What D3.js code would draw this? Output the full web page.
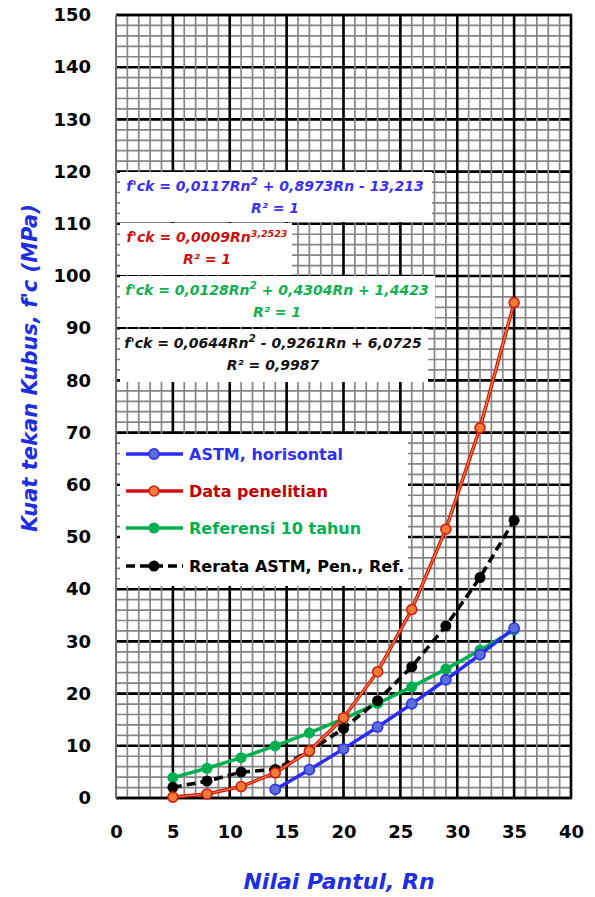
<!DOCTYPE html>
<html>
  <head>
    <title>Kuat tekan vs Nilai Pantul</title>
    <script src="https://d3js.org/d3.v7.min.js"></script>
    <style>
      body { margin: 0; background: #fff; }
      text { font-family: "DejaVu Sans", "Open Sans", sans-serif; }
    </style>
  </head>
  <body>
    <svg width="595" height="897"></svg>

    <script type="text/javascript">
      // data
      var rn = [5, 8, 11, 14, 17, 20, 23, 26, 29, 32, 35];
      var astm = [null, null, null, 1.64, 5.42, 9.41, 13.61, 18.03, 22.65, 27.48, 32.53];
      var penelitian = [0.17, 0.78, 2.19, 4.81, 9.03, 15.37, 24.2, 36.1, 51.5, 70.9, 94.9];
      var referensi = [3.91, 5.7, 7.73, 9.98, 12.46, 15.17, 18.11, 21.29, 24.69, 28.32, 32.19];
      var rerata = [2.04, 3.24, 4.96, 5.48, 8.97, 13.32, 18.64, 25.14, 32.95, 42.23, 53.21];
      var xTicks = [0, 5, 10, 15, 20, 25, 30, 35, 40];
      var yTicks = [0, 10, 20, 30, 40, 50, 60, 70, 80, 90, 100, 110, 120, 130, 140, 150];
      var seriesNames = ["ASTM, horisontal", "Data penelitian", "Referensi 10 tahun", "Rerata ASTM, Pen., Ref."];

      var svg = d3.select("svg");
      var x = d3.scaleLinear().domain([0, 40]).range([116, 571]);
      var y = d3.scaleLinear().domain([0, 150]).range([798, 15]);

      // grid
      var grid = svg.append("g");
      grid.selectAll(".hmin").data(d3.range(0, 151, 2)).enter().append("line")
        .attr("x1", x(0)).attr("x2", x(40))
        .attr("y1", d => y(d)).attr("y2", d => y(d))
        .attr("stroke", "#858585").attr("stroke-width", 1.7);
      grid.selectAll(".hmaj").data(yTicks).enter().append("line")
        .attr("x1", x(0)).attr("x2", x(40))
        .attr("y1", d => y(d)).attr("y2", d => y(d))
        .attr("stroke", "#000").attr("stroke-width", 2.6);
      grid.selectAll(".vmin").data(d3.range(0, 41, 1)).enter().append("line")
        .attr("y1", y(0)).attr("y2", y(150))
        .attr("x1", d => x(d)).attr("x2", d => x(d))
        .attr("stroke", "#858585").attr("stroke-width", 1.7);
      grid.selectAll(".vmaj").data(xTicks.slice(1, -1)).enter().append("line")
        .attr("y1", y(0)).attr("y2", y(150))
        .attr("x1", d => x(d)).attr("x2", d => x(d))
        .attr("stroke", "#000").attr("stroke-width", 2.6);

      // border
      svg.append("path")
        .attr("d", "M" + x(0) + "," + y(150) + "H" + x(40) + "V" + y(0) + "H" + x(0))
        .attr("fill", "none").attr("stroke", "#000").attr("stroke-width", 2.6);
      svg.append("line")
        .attr("x1", x(0)).attr("x2", x(0)).attr("y1", y(150)).attr("y2", y(0))
        .attr("stroke", "#707070").attr("stroke-width", 2);

      // axes
      var xAxis = svg.append("g")
        .attr("transform", "translate(0," + (y(0) + 24) + ")")
        .call(d3.axisBottom(x).tickValues(xTicks).tickSize(0));
      xAxis.select(".domain").remove();
      xAxis.selectAll("text")
        .attr("dy", "0.71em")
        .style("font-size", "18px").style("font-weight", "bold")
        .attr("fill", "#000");

      var yAxis = svg.append("g")
        .attr("transform", "translate(" + (x(0) - 25) + ",0)")
        .call(d3.axisLeft(y).tickValues(yTicks).tickSize(0));
      yAxis.select(".domain").remove();
      yAxis.selectAll("text")
        .attr("x", 0)
        .style("font-size", "18px").style("font-weight", "bold")
        .attr("fill", "#000");

      // axis titles
      svg.append("text")
        .attr("x", 339).attr("y", 889)
        .attr("text-anchor", "middle")
        .style("font-size", "22px").style("font-weight", "bold").style("font-style", "italic")
        .attr("fill", "#1f2fe0")
        .text("Nilai Pantul, Rn");
      svg.append("text")
        .attr("transform", "translate(37,368) rotate(-90)")
        .attr("text-anchor", "middle")
        .style("font-size", "21px").style("font-weight", "bold").style("font-style", "italic")
        .attr("fill", "#1f2fe0")
        .text("Kuat tekan Kubus, f'c (MPa)");

      // series
      var lineGen = d3.line()
        .x(d => x(d[0])).y(d => y(d[1]));
      function pts(vals) {
        return rn.map((r, i) => [r, vals[i]]).filter(d => d[1] != null);
      }

      var plot = svg.append("g");

      // Referensi (green)
      plot.append("path").datum(pts(referensi))
        .attr("fill", "none").attr("stroke", "#00b050").attr("stroke-width", 3.5)
        .attr("d", lineGen);
      plot.selectAll(".gdot").data(pts(referensi)).enter().append("circle")
        .attr("cx", d => x(d[0])).attr("cy", d => y(d[1])).attr("r", 5.5)
        .attr("fill", "#00b050");

      // ASTM (blue)
      plot.append("path").datum(pts(astm))
        .attr("fill", "none").attr("stroke", "#2b2bf5").attr("stroke-width", 3.5)
        .attr("d", lineGen);
      plot.selectAll(".bdot").data(pts(astm)).enter().append("circle")
        .attr("cx", d => x(d[0])).attr("cy", d => y(d[1])).attr("r", 5)
        .attr("fill", "#5b6fd6").attr("stroke", "#3535f0").attr("stroke-width", 1.8);

      // Rerata (black dashed)
      plot.append("path").datum(pts(rerata))
        .attr("fill", "none").attr("stroke", "#000").attr("stroke-width", 3.5)
        .attr("stroke-dasharray", "9,5")
        .attr("d", lineGen);
      plot.selectAll(".kdot").data(pts(rerata)).enter().append("circle")
        .attr("cx", d => x(d[0])).attr("cy", d => y(d[1])).attr("r", 5.5)
        .attr("fill", "#000");

      // Data penelitian (red with orange core)
      plot.append("path").datum(pts(penelitian))
        .attr("fill", "none").attr("stroke", "#d01010").attr("stroke-width", 3.5)
        .attr("d", lineGen);
      plot.append("path").datum(pts(penelitian))
        .attr("fill", "none").attr("stroke", "#f07a30").attr("stroke-width", 1.4)
        .attr("d", lineGen);
      plot.selectAll(".rdot").data(pts(penelitian)).enter().append("circle")
        .attr("cx", d => x(d[0])).attr("cy", d => y(d[1])).attr("r", 5)
        .attr("fill", "#ef7d35").attr("stroke", "#d81a10").attr("stroke-width", 1.6);

      // trendline equation boxes
      var eqs = [
        { x: 120, y: 172, w: 312, h: 50, color: "#3b30f0", cx: 275,
          parts: [["f'ck = 0,0117Rn"], ["2", true], [" + 0,8973Rn - 13,213"]], r2: "R² = 1" },
        { x: 120, y: 223, w: 172, h: 52, color: "#cc1010", cx: 207,
          parts: [["f'ck = 0,0009Rn"], ["3,2523", true]], r2: "R² = 1" },
        { x: 120, y: 276, w: 315, h: 51, color: "#10b050", cx: 277,
          parts: [["f'ck = 0,0128Rn"], ["2", true], [" + 0,4304Rn + 1,4423"]], r2: "R² = 1" },
        { x: 120, y: 329, w: 308, h: 53, color: "#111", cx: 273,
          parts: [["f'ck = 0,0644Rn"], ["2", true], [" - 0,9261Rn + 6,0725"]], r2: "R² = 0,9987" }
      ];
      var eqG = svg.append("g");
      eqs.forEach(function (e) {
        eqG.append("rect")
          .attr("x", e.x).attr("y", e.y).attr("width", e.w).attr("height", e.h)
          .attr("fill", "#fff");
        var t = eqG.append("text")
          .attr("x", e.cx).attr("y", e.y + 19)
          .attr("text-anchor", "middle")
          .style("font-size", "14px").style("font-weight", "bold").style("font-style", "italic")
          .attr("fill", e.color);
        e.parts.forEach(function (p) {
          var ts = t.append("tspan").text(p[0]);
          if (p[1]) ts.attr("baseline-shift", "super").style("font-size", p[0].length > 1 ? "9.5px" : "10.5px");
        });
        eqG.append("text")
          .attr("x", e.cx).attr("y", e.y + 41)
          .attr("text-anchor", "middle")
          .style("font-size", "14px").style("font-weight", "bold").style("font-style", "italic")
          .attr("fill", e.color)
          .text(e.r2);
      });

      // legend
      var leg = svg.append("g");
      leg.append("rect")
        .attr("x", 120).attr("y", 434).attr("width", 288).attr("height", 152)
        .attr("fill", "#fff");
      var legColors = ["#3030f0", "#c00000", "#00b050", "#000"];
      var legRows = [454, 491, 528, 566];
      seriesNames.forEach(function (name, i) {
        var ly = legRows[i];
        var ln = leg.append("line")
          .attr("x1", 126).attr("x2", 183).attr("y1", ly).attr("y2", ly)
          .attr("stroke-width", 3.5);
        if (i === 0) {
          ln.attr("stroke", "#2b2bf5");
          leg.append("circle").attr("cx", 154).attr("cy", ly).attr("r", 5)
            .attr("fill", "#5b6fd6").attr("stroke", "#3535f0").attr("stroke-width", 1.8);
        } else if (i === 1) {
          ln.attr("stroke", "#d01010");
          leg.append("circle").attr("cx", 154).attr("cy", ly).attr("r", 5)
            .attr("fill", "#ef7d35").attr("stroke", "#d81a10").attr("stroke-width", 1.6);
        } else if (i === 2) {
          ln.attr("stroke", "#00b050");
          leg.append("circle").attr("cx", 154).attr("cy", ly).attr("r", 5.5).attr("fill", "#00b050");
        } else {
          ln.attr("stroke", "#000").attr("stroke-dasharray", "9,5");
          leg.append("circle").attr("cx", 154).attr("cy", ly).attr("r", 5.5).attr("fill", "#000");
        }
        leg.append("text")
          .attr("x", 189).attr("y", ly)
          .attr("dy", "0.35em")
          .style("font-size", "16px").style("font-weight", "bold")
          .attr("fill", legColors[i])
          .text(name);
      });
    </script>
  </body>
</html>
